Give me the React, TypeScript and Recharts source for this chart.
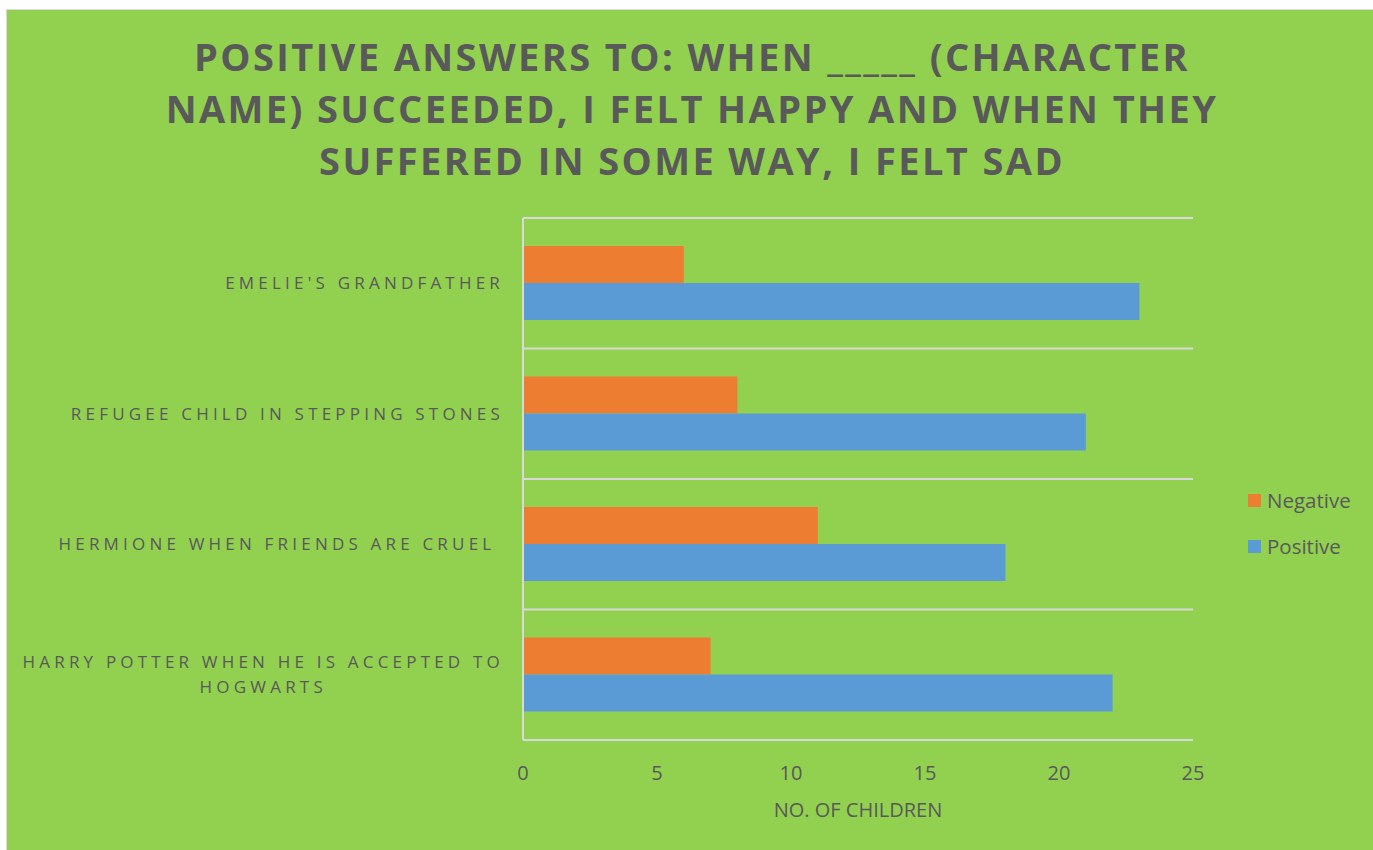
import React from "react";
import { Bar, BarChart, CartesianGrid, Legend, XAxis, YAxis } from "recharts";

const titleLines = [
  "POSITIVE ANSWERS TO: WHEN _____ (CHARACTER",
  "NAME) SUCCEEDED, I FELT HAPPY AND WHEN THEY",
  "SUFFERED IN SOME WAY, I FELT SAD"
];

const characters = [
  "EMELIE'S GRANDFATHER",
  "REFUGEE CHILD IN STEPPING STONES",
  "HERMIONE WHEN FRIENDS ARE CRUEL ",
  "HARRY POTTER WHEN HE IS ACCEPTED TO HOGWARTS"
];
const negativeCounts = [6, 8, 11, 7];
const positiveCounts = [23, 21, 18, 22];
const xTicks = [0, 5, 10, 15, 20, 25];
const xAxisTitle = "NO. OF CHILDREN";

const data = characters.map((name, i) => ({
  name,
  Negative: negativeCounts[i],
  Positive: positiveCounts[i]
}));

const TEXT = "#595959";
const GRID = "#D9D9D9";
const LABEL_SIZE = 17;
const LABEL_SPACING = 4.2;
const LABEL_LINE = 25;

function wrapLabel(text: string, maxChars = 36): string[] {
  if (text.length <= maxChars) return [text];
  const lines: string[] = [];
  let current = "";
  for (const word of text.split(" ")) {
    const next = current ? `${current} ${word}` : word;
    if (next.length > maxChars && current) {
      lines.push(current);
      current = word;
    } else {
      current = next;
    }
  }
  if (current) lines.push(current);
  return lines;
}

let ctx: CanvasRenderingContext2D | null = null;
function measure(text: string): number {
  if (!ctx) ctx = document.createElement("canvas").getContext("2d");
  if (!ctx) return text.length * 14;
  ctx.font = `${LABEL_SIZE}px "Open Sans"`;
  (ctx as any).letterSpacing = `${LABEL_SPACING}px`;
  return ctx.measureText(text).width;
}

function CharacterTick({ x, y, payload }: any) {
  const lines = wrapLabel(String(payload.value));
  const textStyle = {
    fontSize: LABEL_SIZE,
    letterSpacing: LABEL_SPACING,
    fill: TEXT,
    whiteSpace: "pre" as const
  };
  if (lines.length === 1) {
    return (
      <text x={x} y={y} dy="0.35em" textAnchor="end" style={textStyle}>
        {lines[0]}
      </text>
    );
  }
  const blockWidth = Math.max(...lines.map(measure));
  const cx = x - blockWidth / 2;
  const firstY = y - ((lines.length - 1) * LABEL_LINE) / 2;
  return (
    <text textAnchor="middle" style={textStyle}>
      {lines.map((line, i) => (
        <tspan key={i} x={cx} y={firstY + i * LABEL_LINE} dy="0.35em">
          {line}
        </tspan>
      ))}
    </text>
  );
}

function SeriesLegend({ payload }: any) {
  return (
    <div style={{ display: "flex", flexDirection: "column" }}>
      {(payload || []).map((entry: any) => (
        <div
          key={entry.value}
          style={{ display: "flex", alignItems: "center", height: 46 }}
        >
          <span
            style={{ width: 13, height: 13, background: entry.color, marginRight: 6 }}
          />
          <span style={{ fontSize: 20.5, color: TEXT }}>{entry.value}</span>
        </div>
      ))}
    </div>
  );
}

export default function App() {
  return (
    <div
      style={{
        position: "fixed",
        left: 6,
        top: 9,
        width: 1366,
        height: 840,
        background: "#92D050",
        border: `1px solid ${GRID}`,
        overflow: "hidden",
        fontFamily: '"Open Sans", sans-serif'
      }}
    >
      <div
        style={{
          position: "absolute",
          top: 20,
          left: 0,
          width: 1370,
          textAlign: "center",
          fontSize: 38,
          fontWeight: 700,
          lineHeight: "52px",
          letterSpacing: 2.4,
          color: TEXT
        }}
      >
        {titleLines.map((line) => (
          <div key={line}>{line}</div>
        ))}
      </div>
      <div style={{ position: "absolute", left: 0, top: 0 }}>
        <BarChart
          width={1366}
          height={840}
          data={data}
          layout="vertical"
          margin={{ top: 208, right: 180, bottom: 30, left: 16 }}
          barSize={37}
          barGap={0}
        >
          <CartesianGrid
            vertical={false}
            stroke={GRID}
            strokeWidth={2}
            horizontalCoordinatesGenerator={({ offset }: any) =>
              Array.from(
                { length: characters.length + 1 },
                (_, i) => offset.top + (i * offset.height) / characters.length
              )
            }
          />
          <XAxis
            type="number"
            domain={[0, 25]}
            ticks={xTicks}
            interval={0}
            axisLine={false}
            tickLine={false}
            tickSize={0}
            tickMargin={26}
            height={80}
            tick={{ fill: TEXT, fontSize: 20 }}
            label={{
              value: xAxisTitle,
              position: "insideBottom",
              offset: 3,
              fill: TEXT,
              fontSize: 20
            }}
          />
          <YAxis
            type="category"
            dataKey="name"
            width={500}
            axisLine={{ stroke: GRID, strokeWidth: 2 }}
            tickLine={false}
            tickSize={0}
            tickMargin={19}
            interval={0}
            tick={<CharacterTick />}
          />
          <Legend
            layout="vertical"
            align="center"
            verticalAlign="middle"
            content={<SeriesLegend />}
            wrapperStyle={{ left: 1241, top: 467, width: "auto", height: "auto" }}
          />
          <Bar dataKey="Negative" name="Negative" fill="#ED7D31" isAnimationActive={false} />
          <Bar dataKey="Positive" name="Positive" fill="#5B9BD5" isAnimationActive={false} />
        </BarChart>
      </div>
    </div>
  );
}
